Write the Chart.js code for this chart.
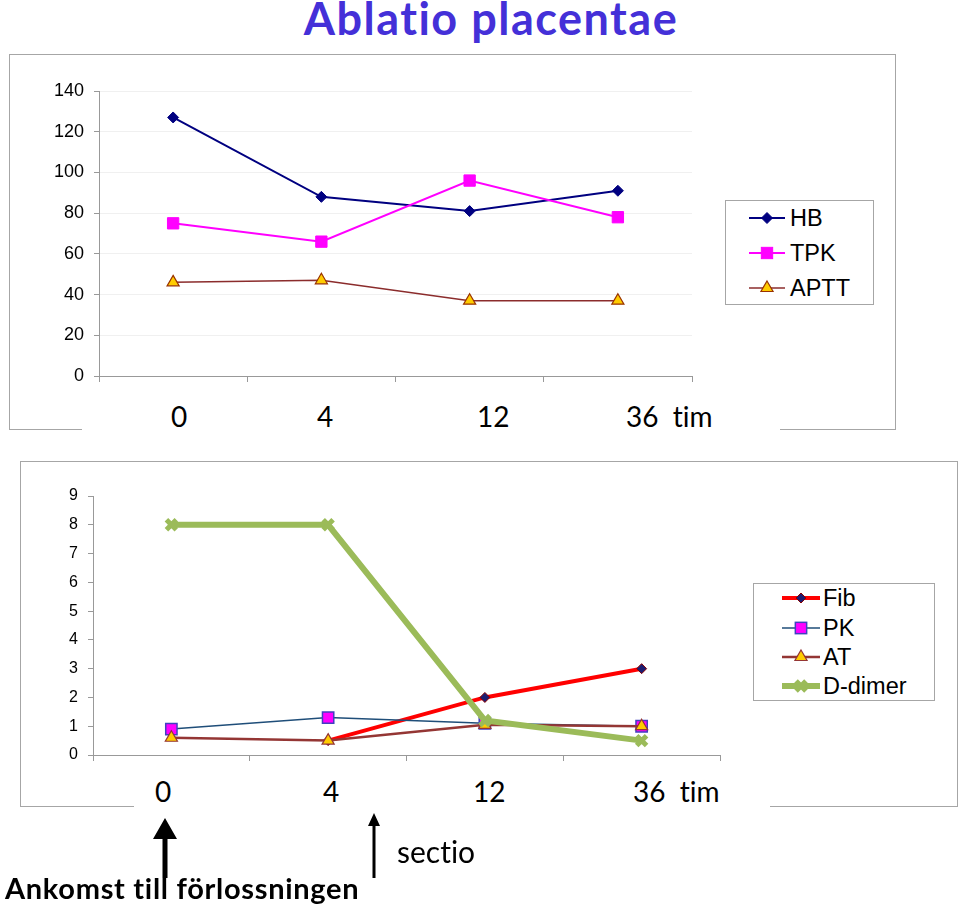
<!DOCTYPE html>
<html>
<head>
<meta charset="utf-8">
<script src="https://cdn.jsdelivr.net/npm/chart.js@4"></script>
<style>
  body{margin:0;background:#fff;width:960px;height:915px;position:relative;overflow:hidden;font-family:"Liberation Sans",Arial,sans-serif;}
  .abs{position:absolute;}
  .frame{position:absolute;border:1.5px solid #a6a6a6;box-sizing:border-box;}
  .strip{position:absolute;background:#fff;}
  .big{position:absolute;font-family:Lato,"Open Sans",sans-serif;font-size:28px;line-height:28px;color:#000;white-space:pre;font-variant-ligatures:none;}
  .legend{position:absolute;border:1.5px solid #a6a6a6;box-sizing:border-box;background:#fff;}
  .legend .row{position:absolute;height:20px;display:flex;align-items:center;}
  .legend .row span{font-size:23.5px;line-height:20px;color:#000;}
  #title{position:absolute;left:0;width:982px;top:-4px;text-align:center;font-family:Lato,sans-serif;font-weight:bold;font-size:45px;line-height:45px;letter-spacing:1.5px;color:#4430d8;}
</style>
</head>
<body>
<div id="title">Ablatio placentae</div>

<div class="frame" style="left:9px;top:54px;width:887px;height:376px;"></div>
<canvas id="topChart" class="abs" width="886" height="376" style="left:9px;top:54px;"></canvas>
<div class="strip" style="left:82px;top:398px;width:698px;height:40px;"></div>
<div id="topLabels"></div>
<div id="topLegend" class="legend" style="left:725px;top:200px;width:149px;height:105px;"></div>

<div class="frame" style="left:20px;top:461px;width:938px;height:346px;"></div>
<canvas id="bottomChart" class="abs" width="938" height="346" style="left:20px;top:461px;"></canvas>
<div class="strip" style="left:134px;top:772px;width:636px;height:40px;"></div>
<div id="bottomLabels"></div>
<div id="bottomLegend" class="legend" style="left:753px;top:583px;width:182px;height:118px;"></div>

<svg class="abs" style="left:0;top:0" width="960" height="915">
  <path d="M162.5 878 L162.5 839 L153 839 L165 818 L177 839 L167.5 839 L167.5 878 Z" fill="#000"/>
  <path d="M372.5 878 L372.5 826 L368 826 L374 813 L380 826 L375.5 826 L375.5 878 Z" fill="#000"/>
</svg>
<div class="big" style="left:397px;top:836px;font-size:30px;line-height:30px;">sectio</div>
<div class="big" style="left:5px;top:874px;font-weight:bold;font-size:29px;letter-spacing:0.7px;">Ankomst till förlossningen</div>

<script>
/* DATA */
const timeLabels = ["0","4","12","36"];
const axisLabels = ["0","4","12","36  tim"];

const hbValues   = [127, 88, 81, 91];
const tpkValues  = [75, 66, 96, 78];
const apttValues = [46, 47, 37, 37];

const fibValues    = [null, 0.5, 2, 3];
const pkValues     = [0.9, 1.3, 1.1, 1.0];
const atValues     = [0.6, 0.5, 1.05, 1.0];
const dDimerValues = [8, 8, 1.2, 0.5];

const topTicks = [0, 140, 20];    // min, max, step
const bottomTicks = [0, 9, 1];

/* DATASETS */
const topSets = [
  {label:"HB", data:hbValues, borderColor:"#000080", borderWidth:2,
   pointStyle:"rectRot", pointRadius:5.5, pointBackgroundColor:"#000080", pointBorderColor:"#000080", pointBorderWidth:1},
  {label:"TPK", data:tpkValues, borderColor:"#ff00ff", borderWidth:2,
   pointStyle:"rect", pointRadius:8, pointBackgroundColor:"#ff00ff", pointBorderColor:"#ff00ff", pointBorderWidth:1},
  {label:"APTT", data:apttValues, borderColor:"#8b2c2c", borderWidth:1.5,
   pointStyle:"triangle", pointRadius:7, pointBackgroundColor:"#ffcc00", pointBorderColor:"#993300", pointBorderWidth:1.2}
];

const bottomSets = [
  {label:"Fib", data:fibValues, borderColor:"#ff0000", borderWidth:4,
   pointStyle:"rectRot", pointRadius:5, pointBackgroundColor:"#1c1c70", pointBorderColor:"#8b0000", pointBorderWidth:1},
  {label:"PK", data:pkValues, borderColor:"#1f4e79", borderWidth:1.5,
   pointStyle:"rect", pointRadius:8, pointBackgroundColor:"#ff00ff", pointBorderColor:"#4040c0", pointBorderWidth:1.5},
  {label:"AT", data:atValues, borderColor:"#943634", borderWidth:2.5,
   pointStyle:"triangle", pointRadius:7, pointBackgroundColor:"#ffcc00", pointBorderColor:"#943634", pointBorderWidth:1.2},
  {label:"D-dimer", data:dDimerValues, borderColor:"#9bbb59", borderWidth:6,
   pointStyle:"crossRot", pointRadius:7, pointBackgroundColor:"#9bbb59", pointBorderColor:"#9bbb59", pointBorderWidth:5}
];

/* CHART */
function makeChart(id, sets, ticks, yWidth, pad, fontSize, gridColor){
  return new Chart(document.getElementById(id),{
    type:"line",
    // later series on top, like the spreadsheet original
    data:{labels:timeLabels, datasets:sets.map((s,i)=>Object.assign({tension:0, fill:false, spanGaps:false, order:sets.length-i}, s))},
    options:{
      responsive:false, animation:false,
      layout:{padding:pad},
      plugins:{legend:{display:false}, tooltip:{enabled:false}},
      scales:{
        x:{
          offset:true,
          ticks:{display:false},
          grid:{offset:true, drawOnChartArea:false, drawTicks:true, tickLength:6, tickColor:"#999"},
          border:{color:"#999", width:1},
          afterFit:a=>{a.height=10;}
        },
        y:{
          min:ticks[0], max:ticks[1],
          ticks:{stepSize:ticks[2], padding:10, color:"#000",
                 font:{family:"Liberation Sans, Arial", size:fontSize}},
          grid:{color:gridColor, drawOnChartArea:!!gridColor, tickLength:5, tickColor:"#999"},
          border:{color:"#999", width:1},
          afterFit:a=>{a.width=yWidth;}
        }
      }
    }
  });
}

makeChart("topChart", topSets, topTicks, 90, {left:0, top:37, right:203, bottom:44}, 18, "#f0f0f0");
makeChart("bottomChart", bottomSets, bottomTicks, 73, {left:0, top:35, right:238, bottom:42}, 16, null);

/* BIG AXIS LABELS */
function bigLabels(id, centers, top){
  const box = document.getElementById(id);
  axisLabels.forEach((t,i)=>{
    const d = document.createElement("div");
    d.className = "big";
    d.textContent = t;
    d.style.top = top+"px";
    box.appendChild(d);
    if(i===axisLabels.length-1){ d.style.left = centers[i]+"px"; }
    else { d.style.left = (centers[i]-d.offsetWidth/2)+"px"; }
  });
}
bigLabels("topLabels", [179, 325, 493, 626], 402);
bigLabels("bottomLabels", [163, 331, 489, 633], 777);

/* LEGENDS */
function marker(s, cx, cy){
  const r = s.pointRadius, f = s.pointBackgroundColor, b = s.pointBorderColor, w = s.pointBorderWidth;
  if(s.pointStyle==="rectRot")
    return `<path d="M${cx} ${cy-r} L${cx+r} ${cy} L${cx} ${cy+r} L${cx-r} ${cy} Z" fill="${f}" stroke="${b}" stroke-width="${w}"/>`;
  if(s.pointStyle==="rect"){
    const h = r*Math.SQRT1_2;
    return `<rect x="${cx-h}" y="${cy-h}" width="${2*h}" height="${2*h}" fill="${f}" stroke="${b}" stroke-width="${w}"/>`;
  }
  if(s.pointStyle==="triangle"){
    const h = r*0.866;
    return `<path d="M${cx} ${cy-r} L${cx+h} ${cy+r/2} L${cx-h} ${cy+r/2} Z" fill="${f}" stroke="${b}" stroke-width="${w}"/>`;
  }
  const h = r*Math.SQRT1_2;
  return `<path d="M${cx-h} ${cy-h} L${cx+h} ${cy+h} M${cx+h} ${cy-h} L${cx-h} ${cy+h}" stroke="${b}" stroke-width="${w}"/>`;
}

function legend(id, sets, rows, lineX, lineW, textX){
  const box = document.getElementById(id);
  sets.forEach((s,i)=>{
    const row = document.createElement("div");
    row.className = "row";
    row.style.top = (rows[i]-10)+"px";
    row.style.left = lineX+"px";
    const mid = lineW/2;
    row.innerHTML =
      `<svg width="${lineW}" height="20" style="overflow:visible">
         <line x1="0" y1="10" x2="${lineW}" y2="10" stroke="${s.borderColor}" stroke-width="${s.borderWidth}"/>
         ${marker(s, mid, 10)}
       </svg><span style="margin-left:${textX-lineX-lineW}px">${s.label}</span>`;
    box.appendChild(row);
  });
}
legend("topLegend", topSets, [17, 52, 87], 23, 36, 64);
legend("bottomLegend", bottomSets, [14, 44, 73, 102], 28, 38, 69);
</script>
</body>
</html>
